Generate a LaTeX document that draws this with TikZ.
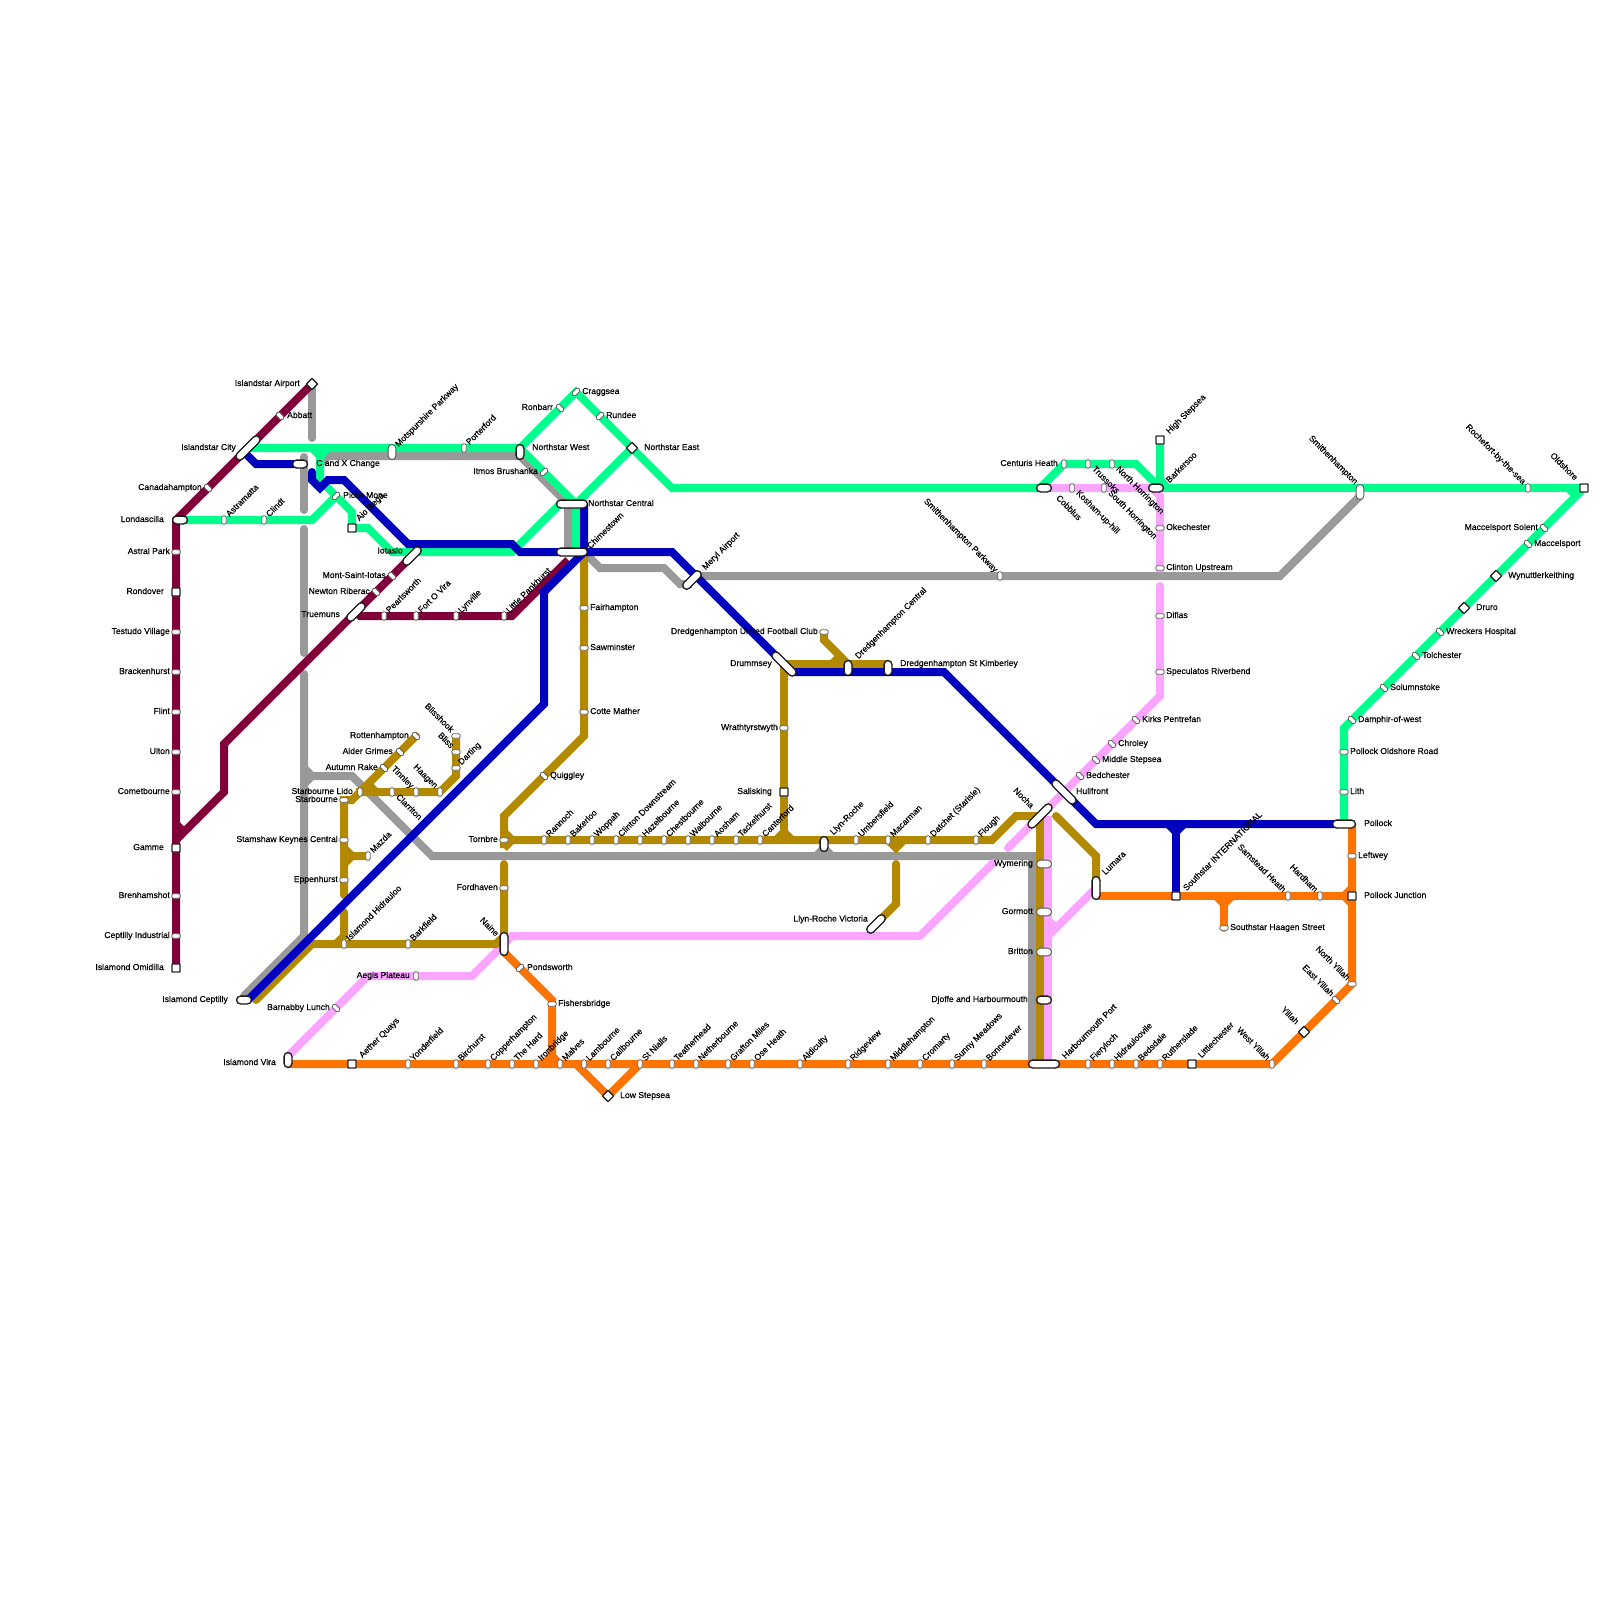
\documentclass[tikz,border=0pt]{standalone}
\usepackage{fontspec}
\setmainfont[FakeBold=0.25]{Liberation Sans}
\usetikzlibrary{positioning,backgrounds}

\definecolor{lnmaroon}{HTML}{80003A}
\definecolor{lngreen}{HTML}{00FF8C}
\definecolor{lnblue}{HTML}{0000BF}
\definecolor{lngold}{HTML}{B38900}
\definecolor{lngray}{HTML}{999999}
\definecolor{lnpink}{HTML}{FAA5FF}
\definecolor{lnorange}{HTML}{FF7300}

\begin{document}
\begin{tikzpicture}[
  x=1pt, y=-1pt,
  stn/.style={rectangle, rounded corners=1.5pt, draw=black!60, line width=0.9pt, fill=white,
              minimum width=8.5pt, minimum height=4.5pt, inner sep=0pt},
  sh/.style={stn},
  sv/.style={stn, rotate=90},
  sa/.style={stn, rotate=45},
  sb/.style={stn, rotate=-45},
  hub/.style={rectangle, rounded corners=3.9pt, draw=black!90, line width=1.3pt, fill=white,
              minimum width=#1, minimum height=7.8pt, inner sep=0pt},
  hub/.default=15pt,
  hubg/.style={hub=#1, draw=black!65, line width=0.9pt},
  hubg/.default=15pt,
  sqr/.style={rectangle, rounded corners=0.6pt, draw=black!85, line width=1.3pt, fill=white,
              minimum size=8pt, inner sep=0pt},
  dia/.style={sqr, rotate=45},
  lab/.style={font=\fontsize{8.6}{10}\selectfont, inner sep=0pt, text height=6pt, text depth=2pt},
  rup/.style={lab, xshift=4pt, yshift=4pt, rotate=45, anchor=west},
  rdn/.style={lab, xshift=5pt, yshift=-4pt, rotate=-45, anchor=west},
  rul/.style={lab, xshift=-4pt, yshift=4.5pt, rotate=-45, anchor=east},
  ln/.style={line width=8pt, miter limit=10},
  lnc/.style={ln, line cap=round}
]
% Maroon line stations
\node[dia] (airport) at (312,384) {}; \node[lab, left=12pt of airport.center] (airportt) {Islandstar Airport};
\node[sb] (abbatt) at (280,416) {}; \node[lab, right=7pt of abbatt.center] (abbattt) {Abbatt};
\node[hub=31pt, rotate=45] (isscity) at (248,448) {}; \node[lab, left=12pt of isscity.center] (isscityt) {Islandstar City};
\node[sb] (canada) at (208,488) {}; \node[lab, left=6pt of canada.center] (canadat) {Canadahampton};
\node[hub] (londa) at (180,520) {}; \node[lab, left=16pt of londa.center] (londat) {Londascilla};
\node[sh] (astral) at (176,552) {}; \node[lab, left=6pt of astral.center] (astralt) {Astral Park};
\node[sqr] (rondover) at (176,592) {}; \node[lab, left=12pt of rondover.center] (rondovert) {Rondover};
\node[sh] (testudo) at (176,632) {}; \node[lab, left=6pt of testudo.center] (testudot) {Testudo Village};
\node[sh] (bracken) at (176,672) {}; \node[lab, left=6pt of bracken.center] (brackent) {Brackenhurst};
\node[sh] (flint) at (176,712) {}; \node[lab, left=6pt of flint.center] (flintt) {Flint};
\node[sh] (ulton) at (176,752) {}; \node[lab, left=6pt of ulton.center] (ultont) {Ulton};
\node[sh] (comet) at (176,792) {}; \node[lab, left=6pt of comet.center] (comett) {Cometbourne};
\node[sqr] (gamme) at (176,848) {}; \node[lab, left=12pt of gamme.center] (gammet) {Gamme};
\node[sh] (brenham) at (176,896) {}; \node[lab, left=6pt of brenham.center] (brenhamt) {Brenhamshot};
\node[sh] (ceptind) at (176,936) {}; \node[lab, left=6pt of ceptind.center] (ceptindt) {Ceptilly Industrial};
\node[sqr] (omidilla) at (176,968) {}; \node[lab, left=12pt of omidilla.center] (omidillat) {Islamond Omidilla};
\node[hub=23pt, rotate=45] (iotaslo) at (412,556) {}; \node[lab, left=9pt of iotaslo.center, yshift=4.5pt] (iotaslot) {Iotaslo};
\node[sb] (montsaint) at (392,576) {}; \node[lab, left=6pt of montsaint.center] (montsaintt) {Mont-Saint-Iotas};
\node[sb] (newton) at (376,592) {}; \node[lab, left=6pt of newton.center] (newtont) {Newton Riberac};
\node[hub=23pt, rotate=45] (truemuns) at (356,612) {}; \node[lab, left=16pt of truemuns.center, yshift=-3pt] (truemunst) {Truemuns};
\node[sv] (pearls) at (384,616) {}; \node[rup] (pearlst) at (pearls.center) {Pearlsworth};
\node[sv] (fortovira) at (416,616) {}; \node[rup] (fortovirat) at (fortovira.center) {Fort O Vira};
\node[sv] (lynville) at (456,616) {}; \node[rup] (lynvillet) at (lynville.center) {Lynville};
\node[sv] (pankhurst) at (504,616) {}; \node[rup] (pankhurstt) at (pankhurst.center) {Little Pankhurst};

% Green line stations
\node[sv] (astram) at (224,520) {}; \node[rup] (astramt) at (astram.center) {Astramatta};
\node[sv] (clindt) at (264,520) {}; \node[rup] (clindtt) at (clindt.center) {Clindt};
\node[sa] (picks) at (336,496) {}; \node[lab, right=7pt of picks.center] (pickst) {Picks Mone};
\node[sqr] (aiorega) at (352,528) {}; \node[xshift=2pt, yshift=4pt, rup] (aioregat) at (aiorega.center) {Aio Rega};
\node[hubg=15pt, rotate=90] (motspur) at (392,452) {}; \node[xshift=1pt, yshift=2pt, rup] (motspurt) at (motspur.center) {Motspurshire Parkway};
\node[sv] (porter) at (464,448) {}; \node[rup] (portert) at (porter.center) {Porterford};
\node[hub, rotate=90] (nswest) at (520,452) {}; \node[lab, right=12pt of nswest.center, yshift=4pt] (nswestt) {Northstar West};
\node[sb] (ronbarr) at (560,408) {}; \node[lab, left=7pt of ronbarr.center] (ronbarrt) {Ronbarr};
\node[sa] (craggsea) at (576,392) {}; \node[lab, right=6pt of craggsea.center] (craggseat) {Craggsea};
\node[sa] (rundee) at (600,416) {}; \node[lab, right=6pt of rundee.center] (rundeet) {Rundee};
\node[dia] (nseast) at (632,448) {}; \node[lab, right=12pt of nseast.center] (nseastt) {Northstar East};
\node[hub=31pt] (nscentral) at (572,504) {}; \node[lab, right=16pt of nscentral.center] (nscentralt) {Northstar Central};
\node[hub=31pt] (chimes) at (572,552) {}; \node[xshift=13pt, rup] (chimest) at (chimes.center) {Chimestown};
\node[sa] (itmos) at (544,472) {}; \node[lab, left=6pt of itmos.center] (itmost) {Itmos Brushanka};
\node[hub] (cobblus) at (1044,488) {}; \node[xshift=8pt, yshift=-5pt, rdn] (cobblust) at (cobblus.center) {Cobblus};
\node[sv] (centuris) at (1064,464) {}; \node[lab, left=6pt of centuris.center] (centurist) {Centuris Heath};
\node[sv] (trussoks) at (1088,464) {}; \node[rdn] (trussokst) at (trussoks.center) {Trussoks};
\node[sv] (nhorring) at (1112,464) {}; \node[rdn] (nhorringt) at (nhorring.center) {North Horrington};
\node[sqr] (highstep) at (1160,440) {}; \node[xshift=4pt, yshift=3pt, rup] (highstept) at (highstep.center) {High Stepsea};
\node[hub] (barkersoo) at (1156,488) {}; \node[xshift=8pt, yshift=2pt, rup] (barkersoot) at (barkersoo.center) {Barkersoo};
\node[hubg=15pt, rotate=90] (smithen) at (1360,492) {}; \node[yshift=4pt, rul] (smithent) at (smithen.center) {Smithenhampton};
\node[sv] (rochefort) at (1528,488) {}; \node[rul] (rochefortt) at (rochefort.center) {Rochefort-by-the-sea};
\node[sqr] (oldshore) at (1584,488) {}; \node[xshift=-4pt, yshift=4pt, rul] (oldshoret) at (oldshore.center) {Oldshore};
\node[sb] (macsolent) at (1544,528) {}; \node[lab, left=6pt of macsolent.center] (macsolentt) {Maccelsport Solent};
\node[sb] (macport) at (1528,544) {}; \node[lab, right=6pt of macport.center] (macportt) {Maccelsport};
\node[dia] (wynutt) at (1496,576) {}; \node[lab, right=12pt of wynutt.center] (wynuttt) {Wynuttlerkeithing};
\node[dia] (druro) at (1464,608) {}; \node[lab, right=12pt of druro.center] (drurot) {Druro};
\node[sb] (wreckers) at (1440,632) {}; \node[lab, right=6pt of wreckers.center] (wreckerst) {Wreckers Hospital};
\node[sb] (tolchester) at (1416,656) {}; \node[lab, right=6pt of tolchester.center] (tolchestert) {Tolchester};
\node[sb] (solumn) at (1384,688) {}; \node[lab, right=6pt of solumn.center] (solumnt) {Solumnstoke};
\node[sb] (damphir) at (1352,720) {}; \node[lab, right=6pt of damphir.center] (damphirt) {Damphir-of-west};
\node[sh] (pollockold) at (1344,752) {}; \node[lab, right=6pt of pollockold.center] (pollockoldt) {Pollock Oldshore Road};
\node[sh] (lith) at (1344,792) {}; \node[lab, right=6pt of lith.center] (litht) {Lith};
\node[hub=23pt] (pollock) at (1344,824) {}; \node[lab, right=20pt of pollock.center] (pollockt) {Pollock};

% Blue and gray line stations
\node[hub] (candx) at (300,464) {}; \node[lab, right=16pt of candx.center] (candxt) {C and X Change};
\node[hub=23pt, rotate=45] (meryl) at (692,580) {}; \node[xshift=8pt, yshift=7pt, rup] (merylt) at (meryl.center) {Meryl Airport};
\node[hub=31pt, rotate=-45] (drummsey) at (784,664) {}; \node[lab, left=12pt of drummsey.center] (drummseyt) {Drummsey};
\node[hub, rotate=90] (dredcen) at (848,668) {}; \node[xshift=5pt, yshift=6pt, rup] (dredcent) at (dredcen.center) {Dredgenhampton Central};
\node[hub, rotate=90] (dredkim) at (888,668) {}; \node[lab, right=12pt of dredkim.center, yshift=4pt] (dredkimt) {Dredgenhampton St Kimberley};
\node[hub=31pt, rotate=-45] (hullfront) at (1064,792) {}; \node[lab, right=12pt of hullfront.center] (hullfrontt) {Hullfront};
\node[sqr] (ssintl) at (1176,896) {}; \node[xshift=5pt, yshift=2pt, rup] (ssintlt) at (ssintl.center) {Southstar INTERNATIONAL};
\node[sv] (smithpark) at (1000,576) {}; \node[rul] (smithparkt) at (smithpark.center) {Smithenhampton Parkway};
\node[hub] (ceptilly) at (244,1000) {}; \node[lab, left=16pt of ceptilly.center] (ceptillyt) {Islamond Ceptilly};

% Gold line stations
\node[sb] (rotten) at (416,736) {}; \node[lab, left=7pt of rotten.center] (rottent) {Rottenhampton};
\node[sb] (alder) at (400,752) {}; \node[lab, left=7pt of alder.center] (aldert) {Alder Grimes};
\node[sb] (autumn) at (384,768) {}; \node[lab, left=6pt of autumn.center] (autumnt) {Autumn Rake};
\node[sv] (lido) at (360,792) {}; \node[lab, left=7pt of lido.center] (lidot) {Starbourne Lido};
\node[sh] (starb) at (344,800) {}; \node[lab, left=6pt of starb.center] (starbt) {Starbourne};
\node[sh] (stamshaw) at (344,840) {}; \node[lab, left=6pt of stamshaw.center] (stamshawt) {Stamshaw Keynes Central};
\node[sh] (eppen) at (344,880) {}; \node[lab, left=6pt of eppen.center] (eppent) {Eppenhurst};
\node[sv] (mazda) at (368,856) {}; \node[rup] (mazdat) at (mazda.center) {Mazda};
\node[sv] (clarriton) at (392,792) {}; \node[rdn] (clarritont) at (clarriton.center) {Clarriton};
\node[sv] (tinnley) at (416,792) {}; \node[rul] (tinnleyt) at (tinnley.center) {Tinnley};
\node[sv] (haagen) at (440,792) {}; \node[rul] (haagent) at (haagen.center) {Haagen};
\node[sh] (blisshook) at (456,736) {}; \node[rul] (blisshookt) at (blisshook.center) {Blisshook};
\node[sh] (bliss) at (456,752) {}; \node[rul] (blisst) at (bliss.center) {Bliss};
\node[sh] (darting) at (456,768) {}; \node[rup] (dartingt) at (darting.center) {Darting};
\node[sv] (hidrauloo) at (344,944) {}; \node[rup] (hidrauloot) at (hidrauloo.center) {Islamond Hidrauloo};
\node[sv] (barkfield) at (408,944) {}; \node[rup] (barkfieldt) at (barkfield.center) {Barkfield};
\node[hub=23pt, rotate=90] (naine) at (504,944) {}; \node[xshift=-3pt, yshift=4pt, rul] (nainet) at (naine.center) {Naine};
\node[sh] (tornbre) at (504,840) {}; \node[lab, left=6pt of tornbre.center] (tornbret) {Tornbre};
\node[sh] (fordhaven) at (504,888) {}; \node[lab, left=6pt of fordhaven.center] (fordhavent) {Fordhaven};
\node[sh] (fairham) at (584,608) {}; \node[lab, right=6pt of fairham.center] (fairhamt) {Fairhampton};
\node[sh] (sawmin) at (584,648) {}; \node[lab, right=6pt of sawmin.center] (sawmint) {Sawminster};
\node[sh] (cotte) at (584,712) {}; \node[lab, right=6pt of cotte.center] (cottet) {Cotte Mather};
\node[sb] (quiggley) at (544,776) {}; \node[lab, right=6pt of quiggley.center] (quiggleyt) {Quiggley};
\node[sv] (rannoch) at (544,840) {}; \node[rup] (rannocht) at (rannoch.center) {Rannoch};
\node[sv] (bakerloo) at (568,840) {}; \node[rup] (bakerloot) at (bakerloo.center) {Bakerloo};
\node[sv] (woppah) at (592,840) {}; \node[rup] (woppaht) at (woppah.center) {Woppah};
\node[sv] (clinton) at (616,840) {}; \node[rup] (clintont) at (clinton.center) {Clinton Downstream};
\node[sv] (hazel) at (640,840) {}; \node[rup] (hazelt) at (hazel.center) {Hazelbourne};
\node[sv] (chest) at (664,840) {}; \node[rup] (chestt) at (chest.center) {Chestbourne};
\node[sv] (walb) at (688,840) {}; \node[rup] (walbt) at (walb.center) {Walbourne};
\node[sv] (aosham) at (712,840) {}; \node[rup] (aoshamt) at (aosham.center) {Aosham};
\node[sv] (tackel) at (736,840) {}; \node[rup] (tackelt) at (tackel.center) {Tackelhurst};
\node[sv] (canter) at (760,840) {}; \node[rup] (cantert) at (canter.center) {Canterford};
\node[hub, rotate=90] (llyn) at (824,844) {}; \node[xshift=4pt, yshift=6pt, rup] (llynt) at (llyn.center) {Llyn-Roche};
\node[sv] (umbers) at (856,840) {}; \node[rup] (umberst) at (umbers.center) {Umbersfield};
\node[sv] (macar) at (888,840) {}; \node[rup] (macart) at (macar.center) {Macarman};
\node[sv] (datchet) at (928,840) {}; \node[rup] (datchett) at (datchet.center) {Datchet (Starisle)};
\node[sv] (flough) at (976,840) {}; \node[rup] (flought) at (flough.center) {Flough};
\node[sh] (wrath) at (784,728) {}; \node[lab, left=6pt of wrath.center] (wratht) {Wrathtyrstwyth};
\node[sqr] (salis) at (784,792) {}; \node[lab, left=12pt of salis.center] (salist) {Salisking};
\node[sh] (dredfc) at (824,632) {}; \node[lab, left=6pt of dredfc.center] (dredfct) {Dredgenhampton United Football Club};
\node[hub=23pt, rotate=45] (llynvic) at (876,924) {}; \node[lab, left=8pt of llynvic.center, yshift=4.5pt] (llynvict) {Llyn-Roche Victoria};
\node[hub=31pt, rotate=45] (nocha) at (1040,816) {}; \node[xshift=-4pt, yshift=4pt, rul] (nochat) at (nocha.center) {Nocha};
\node[hub=23pt, rotate=90] (lumara) at (1096,888) {}; \node[xshift=4pt, yshift=10pt, rup] (lumarat) at (lumara.center) {Lumara};
\node[hubg] (wymering) at (1044,864) {}; \node[lab, left=11pt of wymering.center] (wymeringt) {Wymering};
\node[hubg] (gormott) at (1044,912) {}; \node[lab, left=11pt of gormott.center] (gormottt) {Gormott};
\node[hubg] (britton) at (1044,952) {}; \node[lab, left=11pt of britton.center] (brittont) {Britton};
\node[hub] (djoffe) at (1044,1000) {}; \node[lab, left=16pt of djoffe.center] (djoffet) {Djoffe and Harbourmouth};

% Pink line stations
\node[sb] (barnabby) at (336,1008) {}; \node[lab, left=6pt of barnabby.center] (barnabbyt) {Barnabby Lunch};
\node[sv] (aegis) at (416,976) {}; \node[lab, left=6pt of aegis.center] (aegist) {Aegis Plateau};
\node[sv] (kosham) at (1072,488) {}; \node[rdn] (koshamt) at (kosham.center) {Kosham-up-hill};
\node[sv] (shorring) at (1104,488) {}; \node[rdn] (shorringt) at (shorring.center) {South Horrington};
\node[sh] (okech) at (1160,528) {}; \node[lab, right=6pt of okech.center] (okecht) {Okechester};
\node[sh] (clintonup) at (1160,568) {}; \node[lab, right=6pt of clintonup.center] (clintonupt) {Clinton Upstream};
\node[sh] (diflas) at (1160,616) {}; \node[lab, right=6pt of diflas.center] (diflast) {Diflas};
\node[sh] (specul) at (1160,672) {}; \node[lab, right=6pt of specul.center] (speculct) {Speculatos Riverbend};
\node[sb] (kirks) at (1136,720) {}; \node[lab, right=6pt of kirks.center] (kirkst) {Kirks Pentrefan};
\node[sb] (chroley) at (1112,744) {}; \node[lab, right=6pt of chroley.center] (chroleyt) {Chroley};
\node[sb] (midstep) at (1096,760) {}; \node[lab, right=6pt of midstep.center] (midstept) {Middle Stepsea};
\node[sb] (bedch) at (1080,776) {}; \node[lab, right=6pt of bedch.center] (bedcht) {Bedchester};

% Orange line stations
\node[hub, rotate=90] (vira) at (288,1060) {}; \node[lab, left=12pt of vira.center, yshift=-3pt] (virat) {Islamond Vira};
\node[sqr] (aether) at (352,1064) {}; \node[xshift=5pt, yshift=3pt, rup] (aethert) at (aether.center) {Aether Quays};
\node[sv] (yonder) at (408,1064) {}; \node[rup] (yondert) at (yonder.center) {Yonderfield};
\node[sv] (birch) at (456,1064) {}; \node[rup] (bircht) at (birch.center) {Birchurst};
\node[sv] (copper) at (488,1064) {}; \node[rup] (coppert) at (copper.center) {Copperhampton};
\node[sv] (thehard) at (512,1064) {}; \node[rup] (thehardt) at (thehard.center) {The Hard};
\node[sv] (ironb) at (536,1064) {}; \node[rup] (ironbt) at (ironb.center) {Ironbridge};
\node[sv] (malves) at (560,1064) {}; \node[rup] (malvest) at (malves.center) {Malves};
\node[sv] (lamb) at (584,1064) {}; \node[rup] (lambt) at (lamb.center) {Lambourne};
\node[sv] (callb) at (608,1064) {}; \node[rup] (callbt) at (callb.center) {Callbourne};
\node[sv] (nialls) at (640,1064) {}; \node[rup] (niallst) at (nialls.center) {St Nialls};
\node[sv] (teather) at (672,1064) {}; \node[rup] (teathert) at (teather.center) {Teatherhead};
\node[sv] (nether) at (696,1064) {}; \node[rup] (nethert) at (nether.center) {Netherbourne};
\node[sv] (grafton) at (728,1064) {}; \node[rup] (graftont) at (grafton.center) {Grafton Miles};
\node[sv] (oseheath) at (752,1064) {}; \node[rup] (oseheatht) at (oseheath.center) {Ose Heath};
\node[sv] (aldic) at (800,1064) {}; \node[rup] (aldict) at (aldic.center) {Aldiculty};
\node[sv] (ridge) at (848,1064) {}; \node[rup] (ridget) at (ridge.center) {Ridgeview};
\node[sv] (middle) at (888,1064) {}; \node[rup] (middlet) at (middle.center) {Middlehampton};
\node[sv] (cromarty) at (920,1064) {}; \node[rup] (cromartyt) at (cromarty.center) {Cromarty};
\node[sv] (sunny) at (952,1064) {}; \node[rup] (sunnyt) at (sunny.center) {Sunny Meadows};
\node[sv] (bonne) at (984,1064) {}; \node[rup] (bonnet) at (bonne.center) {Bonnedever};
\node[hub=31pt] (harbour) at (1044,1064) {}; \node[xshift=16pt, yshift=2pt, rup] (harbourt) at (harbour.center) {Harbourmouth Port};
\node[sv] (fiery) at (1088,1064) {}; \node[rup] (fieryt) at (fiery.center) {Fieryloch};
\node[sv] (hidrav) at (1112,1064) {}; \node[rup] (hidravt) at (hidrav.center) {Hidrauloovile};
\node[sv] (beds) at (1136,1064) {}; \node[rup] (bedst) at (beds.center) {Bedsdale};
\node[sv] (ruther) at (1160,1064) {}; \node[rup] (ruthert) at (ruther.center) {Rutherslade};
\node[sqr] (little) at (1192,1064) {}; \node[xshift=4pt, yshift=3pt, rup] (littlet) at (little.center) {Littlechester};
\node[sv] (westy) at (1272,1064) {}; \node[rul] (westyt) at (westy.center) {West Yillah};
\node[dia] (yillah) at (1304,1032) {}; \node[xshift=-3pt, yshift=4pt, rul] (yillaht) at (yillah.center) {Yillah};
\node[sb] (easty) at (1336,1000) {}; \node[rul] (eastyt) at (easty.center) {East Yillah};
\node[sh] (northy) at (1352,984) {}; \node[rul] (northyt) at (northy.center) {North Yillah};
\node[sqr] (pollockjn) at (1352,896) {}; \node[lab, right=12pt of pollockjn.center] (pollockjnt) {Pollock Junction};
\node[sh] (leftwey) at (1352,856) {}; \node[lab, right=6pt of leftwey.center] (leftweyt) {Leftwey};
\node[sv] (samstead) at (1288,896) {}; \node[rul] (samsteadt) at (samstead.center) {Samstead Heath};
\node[sv] (hardham) at (1320,896) {}; \node[rul] (hardhamt) at (hardham.center) {Hardham};
\node[sh] (haagenst) at (1224,928) {}; \node[lab, right=6pt of haagenst.center] (haagenstt) {Southstar Haagen Street};
\node[sa] (ponds) at (520,968) {}; \node[lab, right=7pt of ponds.center] (pondst) {Pondsworth};
\node[sh] (fishers) at (552,1004) {}; \node[lab, right=6pt of fishers.center] (fisherst) {Fishersbridge};
\node[dia] (lowstep) at (608,1096) {}; \node[lab, right=12pt of lowstep.center] (lowstept) {Low Stepsea};

% Bend points
\coordinate (mlon) at (176,520); \coordinate (mgam) at (176,840); \coordinate (mcom) at (224,792);
\coordinate (mult) at (224,744); \coordinate (mtru) at (360,616); \coordinate (mpan) at (512,616);
\coordinate (mchi) at (568,560);
\coordinate (gnw) at (520,448); \coordinate (gne) at (672,488); \coordinate (gcen) at (576,504);
\coordinate (gchi) at (576,552); \coordinate (gsw) at (560,504); \coordinate (gio) at (512,552);
\coordinate (gioa) at (392,552); \coordinate (giob) at (368,528); \coordinate (gtop) at (320,456);
\coordinate (gmid) at (320,480); \coordinate (gaio) at (352,512); \coordinate (glon) at (312,520);
\coordinate (gcoa) at (1040,488); \coordinate (gcob) at (1064,464); \coordinate (gbar) at (1136,464);
\coordinate (gbab) at (1160,488); \coordinate (ghig) at (1160,480); \coordinate (gdam) at (1344,728);

% Lines, under the stations
\begin{scope}[on background layer]
% Gray
\draw[lnc, lngray] (312,388) -- (312,438);
\draw[lnc, lngray] (304,457) -- (304,510);
\draw[lnc, lngray] (304,529) -- (304,653);
\draw[lnc, lngray] (304,674) -- (304,936) -- (244,996);
\draw[ln, lngray] (304,768) -- (312,776) -- (352,776) -- (432,856) -- (1032,856) -- (1032,1060);
\draw[ln, lngray] (304,784) -- (312,776);
\draw[ln, lngray] (320,464) -- (328,456) -- (520,456) -- (568,504) -- (568,552);
\draw[ln, lngray] (588,556) -- (600,568) -- (664,568) -- (680,584) -- (692,584);
\draw[ln, lngray] (692,576) -- (1280,576) -- (1360,496);
\draw[ln, lngray] (816,856) -- (824,848) -- (832,856);
% Pink
\draw[ln, lnpink] (288,1056) -- (368,976) -- (472,976) -- (512,936) -- (920,936);
\draw[lnc, lnpink] (920,936) -- (993,863);
\draw[lnc, lnpink] (1008,848) -- (1160,696) -- (1160,586);
\draw[ln, lnpink] (cobblus.center) -- (1152,488) -- (1160,496) -- (1160,572);
\draw[ln, lnpink] (1048,816) -- (1048,1060);
\draw[ln, lnpink] (lumara.center) -- (1048,936);
\draw[ln, lnpink] (1056,928) -- (1048,920);
% Gold
\draw[lnc, lngold] (rotten.center) -- (352,800) -- (starb.center) -- (344,895);
\draw[ln, lngold] (356,792) -- (440,792) -- (456,776) -- (blisshook.center);
\draw[ln, lngold] (368,784) -- (376,792);
\draw[ln, lngold] (344,848) -- (352,856) -- (mazda.center);
\draw[ln, lngold] (344,864) -- (352,856);
\draw[lnc, lngold] (344,912) -- (344,936) -- (336,944);
\draw[lnc, lngold] (256,1000) -- (312,944) -- (496,944) -- (504,936) -- (504,864);
\draw[ln, lngold] (504,848) -- (504,816) -- (584,736) -- (584,552);
\draw[ln, lngold] (504,848) -- (512,840);
\draw[ln, lngold] (504,832) -- (512,840) -- (992,840) -- (1016,816) -- (nocha.center);
\draw[ln, lngold] (drummsey.center) -- (784,832);
\draw[ln, lngold] (776,840) -- (784,832) -- (792,840);
\draw[ln, lngold] (drummsey.center) -- (888,664);
\draw[ln, lngold] (dredfc.center) -- (824,640) -- (848,664);
\draw[ln, lngold] (832,664) -- (840,656);
\draw[ln, lngold] (888,840) -- (896,848) -- (904,840);
\draw[lnc, lngold] (896,864) -- (896,904) -- (llynvic.center);
\draw[lnc, lngold] (1056,816) -- (1096,856) -- (lumara.center);
\draw[ln, lngold] (nocha.center) -- (1040,1060);
% Orange
\draw[ln, lnorange] (288,1064) -- (westy.center) -- (northy.center) -- (1352,824);
\draw[ln, lnorange] (504,952) -- (552,1000) -- (552,1056) -- (544,1064);
\draw[ln, lnorange] (552,1056) -- (560,1064);
\draw[ln, lnorange] (576,1064) -- (lowstep.center) -- (nialls.center);
\draw[ln, lnorange] (1096,896) -- (pollockjn.center);
\draw[ln, lnorange] (1216,896) -- (1224,904) -- (1232,896);
\draw[lnc, lnorange] (1224,904) -- (haagenst.center);
\draw[ln, lnorange] (1344,896) -- (1352,888);
\draw[ln, lnorange] (1344,896) -- (1352,904);
% Green
\draw[ln, lngreen] (isscity.center) -- (gnw) -- (craggsea.center) -- (gne) -- (cobblus.center);
\draw[ln, lngreen] (barkersoo.center) -- (oldshore.center);
\draw[ln, lngreen] (gnw) -- (gcen) -- (gchi);
\draw[ln, lngreen] (nseast.center) -- (gcen);
\draw[ln, lngreen] (gsw) -- (gio) -- (gioa) -- (giob) -- (aiorega.center);
\draw[ln, lngreen] (312,448) -- (gtop) -- (328,448);
\draw[ln, lngreen] (gtop) -- (gmid) -- (gaio) -- (aiorega.center);
\draw[ln, lngreen] (londa.center) -- (glon) -- (picks.center);
\draw[ln, lngreen] (gcoa) -- (gcob) -- (gbar) -- (gbab);
\draw[ln, lngreen] (highstep.center) -- (ghig) -- (1168,488);
\draw[ln, lngreen] (ghig) -- (1152,488);
\draw[ln, lngreen] (oldshore.center) -- (gdam) -- (pollock.center);
\draw[ln, lngreen] (1568,488) -- (1576,496);
% Maroon
\draw[ln, lnmaroon] (airport.center) -- (mlon) -- (omidilla.center);
\draw[ln, lnmaroon] (mgam) -- (mcom) -- (mult) -- (iotaslo.center);
\draw[ln, lnmaroon] (176,824) -- (184,832);
\draw[ln, lnmaroon] (truemuns.center) -- (mtru) -- (mpan) -- (mchi);
% Blue
\draw[ln, lnblue] (248,1000) -- (544,704) -- (544,592) -- (584,552) -- (584,504);
\draw[ln, lnblue] (244,452) -- (256,464) -- (candx.center);
\draw[lnc, lnblue] (312,472) -- (312,480) -- (320,488) -- (328,480) -- (344,480) -- (408,544) -- (512,544) -- (520,552) -- (672,552) -- (792,672) -- (944,672) -- (1096,824) -- (pollock.center);
\draw[ln, lnblue] (1168,824) -- (1176,832) -- (1184,824);
\draw[ln, lnblue] (1176,832) -- (ssintl.center);
\end{scope}
\useasboundingbox (0,0) rectangle (1600,1600);
\end{tikzpicture}
\end{document}
